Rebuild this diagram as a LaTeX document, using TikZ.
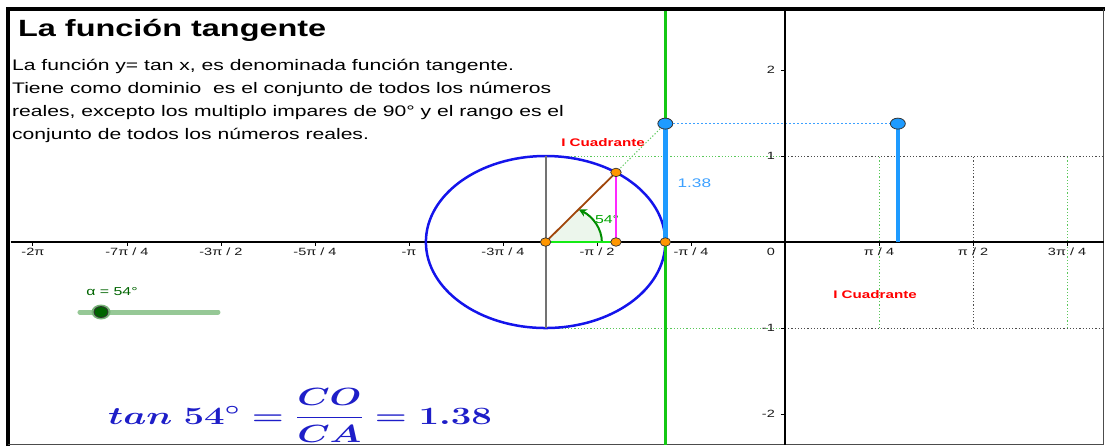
\documentclass[tikz,border=0pt]{standalone}
\usepackage{fontspec}
\usepackage{amsmath}
\usetikzlibrary{arrows.meta,positioning,shapes.geometric}
\newfontfamily\geo[FakeStretch=1.38]{Liberation Sans}
\definecolor{circblue}{RGB}{20,20,235}
\definecolor{vgreen}{RGB}{20,200,20}
\definecolor{adjgreen}{RGB}{20,235,20}
\definecolor{anggreen}{RGB}{0,140,0}
\definecolor{sectfill}{RGB}{236,246,236}
\definecolor{dotgreen}{RGB}{90,200,90}
\definecolor{tanblue}{RGB}{30,155,255}
\definecolor{lblblue}{RGB}{60,160,255}
\definecolor{ptorange}{RGB}{255,150,0}
\definecolor{radbrown}{RGB}{160,70,10}
\definecolor{oppmag}{RGB}{255,40,255}
\definecolor{quadred}{RGB}{255,0,0}
\definecolor{slidegreen}{RGB}{150,200,150}
\definecolor{knobgreen}{RGB}{0,100,0}
\definecolor{formblue}{RGB}{30,30,200}

\begin{document}
\begin{tikzpicture}[
  x=119.7pt, y=86pt,
  txt/.style={inner sep=0pt,anchor=base west,font=\fontsize{15.3}{18}\geo},
  tick/.style={inner sep=0pt,font=\fontsize{10.5}{12}\geo,text=black!90},
  quad/.style={inner sep=0pt,font=\fontsize{11}{13}\geo\bfseries,text=quadred},
  dotg/.style={draw=dotgreen,line width=1pt,dash pattern=on 1.2pt off 2pt},
  dotk/.style={draw=black!70,line width=1pt,dash pattern=on 1.2pt off 2pt},
  dotb/.style={draw=lblblue,line width=1.2pt,dash pattern=on 1.5pt off 2.5pt},
  opt/.style={ellipse,draw=black!80,fill=ptorange,inner sep=0pt,minimum width=10.5pt,minimum height=8.5pt,line width=0.7pt},
  bpt/.style={ellipse,draw=black!80,fill=tanblue,inner sep=0pt,minimum width=15pt,minimum height=11pt,line width=0.8pt}
]
\useasboundingbox (-6.558,-2.372) rectangle (2.673,2.814);
% frame
\draw[line width=4pt] (-6.491,-2.372) -- (-6.491,2.709) -- (2.673,2.709);
\draw[black!70,line width=1.5pt] (2.661,2.709) -- (2.661,-2.355) -- (-6.491,-2.355);

% points of the construction
\coordinate (c) at (-2,0);
\coordinate (q) at ({-2+cos(54)},0);
\coordinate (p) at ({-2+cos(54)},{sin(54)});
\coordinate (a) at (-1,0);
\coordinate (t) at (-1,{tan(54)});
\coordinate (g0) at ({54*pi/180},0);
\coordinate (g) at ({54*pi/180},{tan(54)});

% text
\node[inner sep=0pt,anchor=base west,font=\fontsize{23.5}{28}\geo\bfseries] (title) at (-6.408,2.384) {La función tangente};
\foreach \ln [count=\i from 0] in {{La función y= tan x, es denominada función tangente.},{Tiene como dominio~ es el conjunto de todos los números},{reales, excepto los multiplo impares de 90° y el rango es el},{conjunto de todos los números reales.}}
  \node[txt] at (-6.458,{1.994-0.2674*\i}) {\ln};

% guides
\draw[dotg] (-2,1) -- (0,1);
\draw[dotg] (-2,-1) -- (0,-1);
\draw[dotk] (0,1) -- (2.661,1);
\draw[dotk] (0,-1) -- (2.661,-1);
\draw[dotg] ({pi/4},-1) -- ({pi/4},1);
\draw[dotk] ({pi/2},-1) -- ({pi/2},1);
\draw[dotg] ({3*pi/4},-1) -- ({3*pi/4},1);
\draw[dotb] (t) -- (g);
\draw[dotg] (p) -- (t);

% axes
\draw[line width=1.3pt] (-6.47,0) -- (2.661,0);
\draw[line width=1.3pt] (0,2.686) -- (0,-2.355);
\foreach \k/\t in {-8/{-2π},-7/{-7π / 4},-6/{-3π / 2},-5/{-5π / 4},-4/{-π},-3/{-3π / 4},-2/{-π / 2},-1/{-π / 4},1/{π / 4},2/{π / 2},3/{3π / 4}} {
  \draw[line width=0.8pt] ({\k*pi/4},0) -- ++(0,-0.047);
  \node[tick,anchor=base] at ({\k*pi/4},-0.157) {\t};
}
\node[tick,anchor=base east] at (-0.0835,-0.157) {0};
\foreach \y in {-2,-1,1,2} {
  \draw[line width=0.8pt] (-0.035,\y) -- (0,\y);
  \node[tick,anchor=east] at (-0.0835,\y) {\y};
}

% unit circle
\draw[circblue,line width=2.5pt] (c) circle[radius=1];
\draw[black!55,line width=1.8pt] (-2,-1) -- (-2,1);
\fill[sectfill] (c) -- ++(0.47,0) arc[start angle=0,end angle=54,radius=0.47] -- cycle;
\draw[anggreen,line width=2pt,-{Stealth[length=8pt,width=8pt]}] (c) ++(0.47,0) arc[start angle=0,end angle=54,radius=0.47];
\node[inner sep=0pt,font=\fontsize{11.5}{13}\geo,text=anggreen!80!green] at (-1.487,0.267) {54°};
\draw[adjgreen,line width=2.5pt] (c) -- (q);
\draw[oppmag,line width=1.8pt] (q) -- (p);
\draw[radbrown,line width=1.8pt] (c) -- (p);

% tangent line and value
\draw[vgreen,line width=3.5pt] (-1,2.686) -- (-1,-2.355);
\draw[tanblue,line width=4.5pt] (a) -- node[midway,right=10pt,inner sep=0pt,font=\fontsize{12.5}{14}\geo,text=lblblue] {1.38} (t);
\draw[tanblue,line width=3.5pt] (g0) -- (g);
\node[quad] at (-1.520,1.151) {I Cuadrante};
\node[quad] at (0.752,-0.616) {I Cuadrante};

% dots
\foreach \pt in {c,q,p,a}
  \node[opt] at (\pt) {};
\node[bpt] at (t) {};
\node[bpt] at (g) {};

% slider
\draw[slidegreen,line width=5pt,line cap=round] (-5.890,-0.814) coordinate (s0) -- (-4.737,-0.814) coordinate (s1);
\node[ellipse,fill=slidegreen!80!knobgreen,inner sep=0pt,minimum width=19pt,minimum height=15pt] at (-5.714,-0.814) {};
\node[ellipse,draw=black!80,fill=knobgreen,inner sep=0pt,minimum width=14pt,minimum height=11pt,line width=0.8pt] (knob) at (-5.714,-0.814) {};
\node[inner sep=0pt,font=\fontsize{11.5}{13}\geo,text=knobgreen] (alpha) at (-5.622,-0.581) {α = 54°};

% formula
\node[inner sep=0pt,anchor=base west,text=formblue] (formula) at (-5.656,-2.116) {\scalebox{1.47}[1]{\fontsize{25}{30}\selectfont\boldmath$tan\ 54^\circ=\dfrac{CO}{CA}=1.38$}};
\end{tikzpicture}
\end{document}
